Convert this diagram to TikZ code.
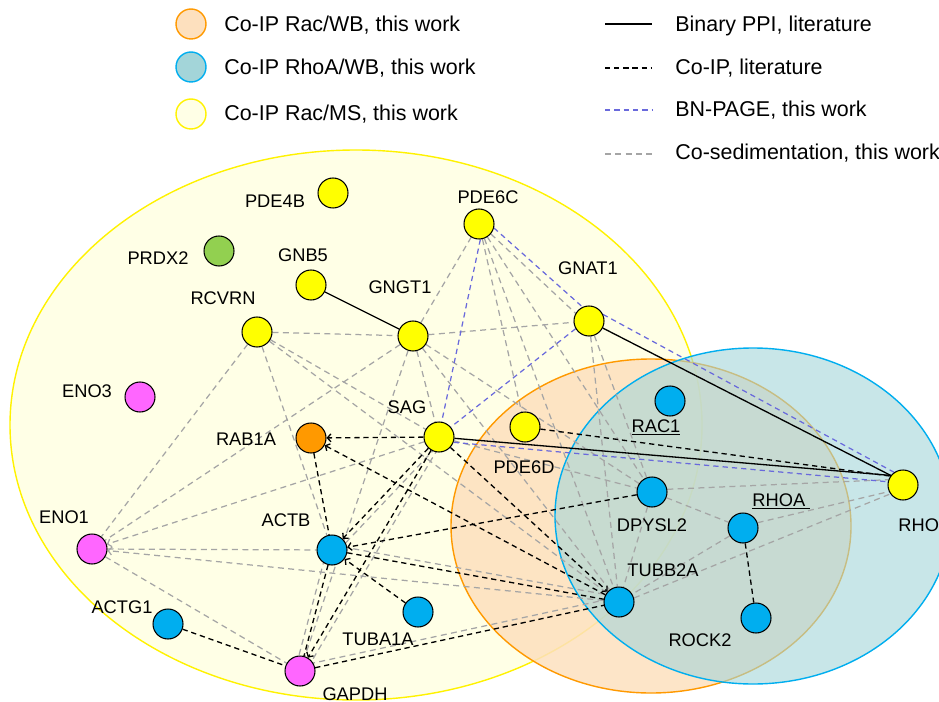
\documentclass[tikz,border=0pt]{standalone}
\usepackage{fontspec}
\setmainfont{Liberation Sans}
\usepackage{tikz}
\usetikzlibrary{arrows.meta,calc}

\definecolor{protyellow}{RGB}{255,255,0}
\definecolor{protblue}{RGB}{0,174,239}
\definecolor{protpink}{RGB}{255,102,255}
\definecolor{protorange}{RGB}{255,153,0}
\definecolor{protgreen}{RGB}{146,208,80}
\definecolor{msfill}{RGB}{255,255,230}
\definecolor{msline}{RGB}{255,242,0}
\definecolor{racfill}{RGB}{253,224,190}
\definecolor{racline}{RGB}{255,153,0}
\definecolor{rhofill}{RGB}{163,213,217}
\definecolor{rholine}{RGB}{0,174,239}
\definecolor{bnblue}{RGB}{105,105,220}
\definecolor{sedgray}{RGB}{165,165,165}

\pgfdeclarelayer{sets}
\pgfdeclarelayer{links}
\pgfsetlayers{sets,links,main}

\tikzset{
  prot/.style={circle, draw=black, line width=0.6pt, minimum size=0.6cm, inner sep=0pt},
  lbl/.style={font=\fontsize{10.4}{12}\selectfont, inner sep=0pt, anchor=base},
  legtxt/.style={font=\fontsize{12.2}{14}\selectfont, inner sep=0pt, anchor=base west},
  legdot/.style={circle, line width=0.8pt, minimum size=0.6cm, inner sep=0pt},
  ppi/.style={black, line width=0.75pt},
  coip/.style={black, line width=0.75pt, dash pattern=on 3pt off 2.2pt},
  bnpage/.style={bnblue, line width=0.7pt, dash pattern=on 3pt off 2.3pt},
  cosed/.style={sedgray, line width=0.7pt, dash pattern=on 3.4pt off 2.5pt},
  arr/.style={-{Straight Barb[length=2pt,width=4.5pt]}}
}

\begin{document}
\begin{tikzpicture}[x=0.02cm, y=-0.02cm]
  \useasboundingbox (0,0) rectangle (939,702);

  % sets
  \begin{pgfonlayer}{sets}
    \draw[msline, fill=msfill, line width=0.8pt] (356,425) ellipse [x radius=346, y radius=275];
    \draw[racline, fill=racfill, fill opacity=0.85, line width=0.8pt] (651,526) ellipse [x radius=200, y radius=167];
    \draw[rholine, fill=rhofill, fill opacity=0.6, line width=0.8pt] (753,516) ellipse [x radius=198, y radius=168];
  \end{pgfonlayer}

  % proteins
  \node[prot, fill=protyellow] (PDE4B) at (333,193) {};
  \node[prot, fill=protgreen] (PRDX2) at (219,251) {};
  \node[prot, fill=protyellow] (GNB5) at (311,285) {};
  \node[prot, fill=protyellow] (GNGT1) at (413,336) {};
  \node[prot, fill=protyellow] (RCVRN) at (257,332) {};
  \node[prot, fill=protyellow] (PDE6C) at (479,224) {};
  \node[prot, fill=protyellow] (GNAT1) at (589,321) {};
  \node[prot, fill=protpink] (ENO3) at (140,397) {};
  \node[prot, fill=protorange] (RAB1A) at (311,438) {};
  \node[prot, fill=protyellow] (SAG) at (439,437) {};
  \node[prot, fill=protyellow] (PDE6D) at (525,427) {};
  \node[prot, fill=protblue] (RAC1) at (670,401) {};
  \node[prot, fill=protyellow] (RHO) at (903,485) {};
  \node[prot, fill=protblue] (DPYSL2) at (652,492) {};
  \node[prot, fill=protblue] (RHOA) at (743,528) {};
  \node[prot, fill=protblue] (TUBB2A) at (619,602) {};
  \node[prot, fill=protblue] (ROCK2) at (756,618) {};
  \node[prot, fill=protpink] (ENO1) at (92,549) {};
  \node[prot, fill=protblue] (ACTB) at (332,550) {};
  \node[prot, fill=protblue] (ACTG1) at (168,624) {};
  \node[prot, fill=protblue] (TUBA1A) at (418,612) {};
  \node[prot, fill=protpink] (GAPDH) at (300,671) {};

  % labels
  \node[lbl] (lPDE4B) at (275,208) {PDE4B};
  \node[lbl] (lPRDX2) at (158,265) {PRDX2};
  \node[lbl] (lGNB5) at (303,262) {GNB5};
  \node[lbl] (lGNGT1) at (400,294) {GNGT1};
  \node[lbl] (lRCVRN) at (223,305) {RCVRN};
  \node[lbl] (lENO3) at (87,397) {ENO3};
  \node[lbl] (lSAG) at (407,413) {SAG};
  \node[lbl] (lRAB1A) at (246,445) {RAB1A};
  \node[lbl] (lENO1) at (64,523) {ENO1};
  \node[lbl] (lACTB) at (286,526) {ACTB};
  \node[lbl] (lACTG1) at (122,613) {ACTG1};
  \node[lbl] (lTUBA1A) at (378,645) {TUBA1A};
  \node[lbl] (lGAPDH) at (355,700) {GAPDH};
  \node[lbl] (lPDE6C) at (488,204) {PDE6C};
  \node[lbl] (lGNAT1) at (588,275) {GNAT1};
  \node[lbl] (lPDE6D) at (524,473) {PDE6D};
  \node[lbl] (lRAC1) at (656,432) {\underline{RAC1}};
  \node[lbl] (lDPYSL2) at (652,531) {DPYSL2};
  \node[lbl] (lRHOA) at (781,506) {\underline{RHOA\hspace{2.5pt}}};
  \node[lbl] (lTUBB2A) at (663,576) {TUBB2A};
  \node[lbl] (lROCK2) at (700,646) {ROCK2};
  \node[lbl, anchor=base west] (lRHO) at (898,531) {RHO};

  \begin{pgfonlayer}{links}
    % co-sedimentation
    \foreach \a/\b in {RCVRN/GNGT1, RCVRN/ENO1, RCVRN/ACTB, RCVRN/SAG, RCVRN/TUBB2A,
        GNGT1/ENO1, GNGT1/PDE6C, GNGT1/GNAT1, GNGT1/SAG, GNGT1/GAPDH, GNGT1/TUBB2A,
        GNGT1/DPYSL2, PDE6C/PDE6D, PDE6C/TUBB2A, PDE6C/DPYSL2,
        GNAT1/TUBB2A, GNAT1/DPYSL2, SAG/DPYSL2, ENO1/ACTB, ENO1/GAPDH,
        DPYSL2/TUBB2A, DPYSL2/RHOA, RHOA/TUBB2A}
      \draw[cosed] (\a) -- (\b);
    \draw[cosed, arr] (SAG) -- (ENO1);
    \draw[cosed, arr] (TUBB2A) -- (ENO1);
    \draw[cosed] (PDE6C.-40) -- (GNAT1.150);
    \draw[cosed] ($(SAG)!0.1cm!90:(ACTB)$) -- ($(ACTB)!0.1cm!-90:(SAG)$);
    \draw[cosed] ($(SAG)!0.1cm!90:(GAPDH)$) -- ($(GAPDH)!0.1cm!-90:(SAG)$);
    \draw[cosed] ($(ACTB)!0.1cm!-90:(GAPDH)$) -- ($(GAPDH)!0.1cm!90:(ACTB)$);
    \draw[cosed] ($(ACTB)!0.1cm!90:(TUBB2A)$) -- ($(TUBB2A)!0.1cm!-90:(ACTB)$);
    \draw[cosed] ($(GAPDH)!0.1cm!90:(TUBB2A)$) -- ($(TUBB2A)!0.1cm!-90:(GAPDH)$);
    \draw[cosed] (DPYSL2.10) -- (RHO.160);
    \draw[cosed] (RHOA.20) -- (RHO.205);
    \draw[cosed] (TUBB2A.15) -- (RHO.215);

    % BN-PAGE
    \draw[bnpage] (PDE6C.-85) -- (SAG.80);
    \draw[bnpage] (GNAT1.210) -- (SAG.40);
    \draw[bnpage] (PDE6C.-15) -- (GNAT1.115);
    \draw[bnpage] (GNAT1.25) -- (RHO.125);
    \draw[bnpage] (SAG.-20) -- (RHO.168);

    % Co-IP, literature
    \draw[coip, arr] (SAG) -- (RAB1A);
    \draw[coip, arr] (TUBB2A) -- (RAB1A);
    \draw[coip] (RAB1A) -- (ACTB);
    \draw[coip, arr] (SAG) -- (ACTB);
    \draw[coip, arr] (DPYSL2) -- (ACTB);
    \draw[coip, arr] (TUBA1A) -- (ACTB);
    \draw[coip] (ACTB) -- (TUBB2A);
    \draw[coip] (ACTB) -- (GAPDH);
    \draw[coip, arr] (SAG) -- (GAPDH);
    \draw[coip] (GAPDH) -- (TUBB2A);
    \draw[coip] (ACTG1) -- (GAPDH);
    \draw[coip, arr] (SAG) -- (TUBB2A);
    \draw[coip] (PDE6D) -- (RHO.145);
    \draw[coip] (RHOA) -- (ROCK2);

    % binary PPI
    \draw[ppi] (GNB5) -- (GNGT1);
    \draw[ppi] (GNAT1) -- (RHO.142);
    \draw[ppi] (SAG) -- (RHO.142);
  \end{pgfonlayer}

  % legend
  \node[legdot, draw=racline, fill=racfill] (kRac) at (191,24) {};
  \node[legdot, draw=rholine, fill=rhofill] (kRhoA) at (191,67) {};
  \node[legdot, draw=msline, fill=msfill] (kMS) at (191,114) {};
  \node[legtxt] (tRac) at (224,32) {Co-IP Rac/WB, this work};
  \node[legtxt] (tRhoA) at (224,75) {Co-IP RhoA/WB, this work};
  \node[legtxt] (tMS) at (224,121) {Co-IP Rac/MS, this work};

  \coordinate (kPPIa) at (605,24);  \coordinate (kPPIb) at (652,24);
  \coordinate (kIPa) at (605,68);   \coordinate (kIPb) at (652,68);
  \coordinate (kBNa) at (605,110);  \coordinate (kBNb) at (652,110);
  \coordinate (kSEDa) at (605,154); \coordinate (kSEDb) at (652,154);
  \draw[ppi] (kPPIa) -- (kPPIb);
  \draw[coip] (kIPa) -- (kIPb);
  \draw[bnpage] (kBNa) -- (kBNb);
  \draw[cosed] (kSEDa) -- (kSEDb);
  \node[legtxt] (tPPI) at (675,32) {Binary PPI, literature};
  \node[legtxt] (tIP) at (675,75) {Co-IP, literature};
  \node[legtxt] (tBN) at (675,117) {BN-PAGE, this work};
  \node[legtxt] (tSED) at (675,160) {Co-sedimentation, this work};
\end{tikzpicture}
\end{document}
